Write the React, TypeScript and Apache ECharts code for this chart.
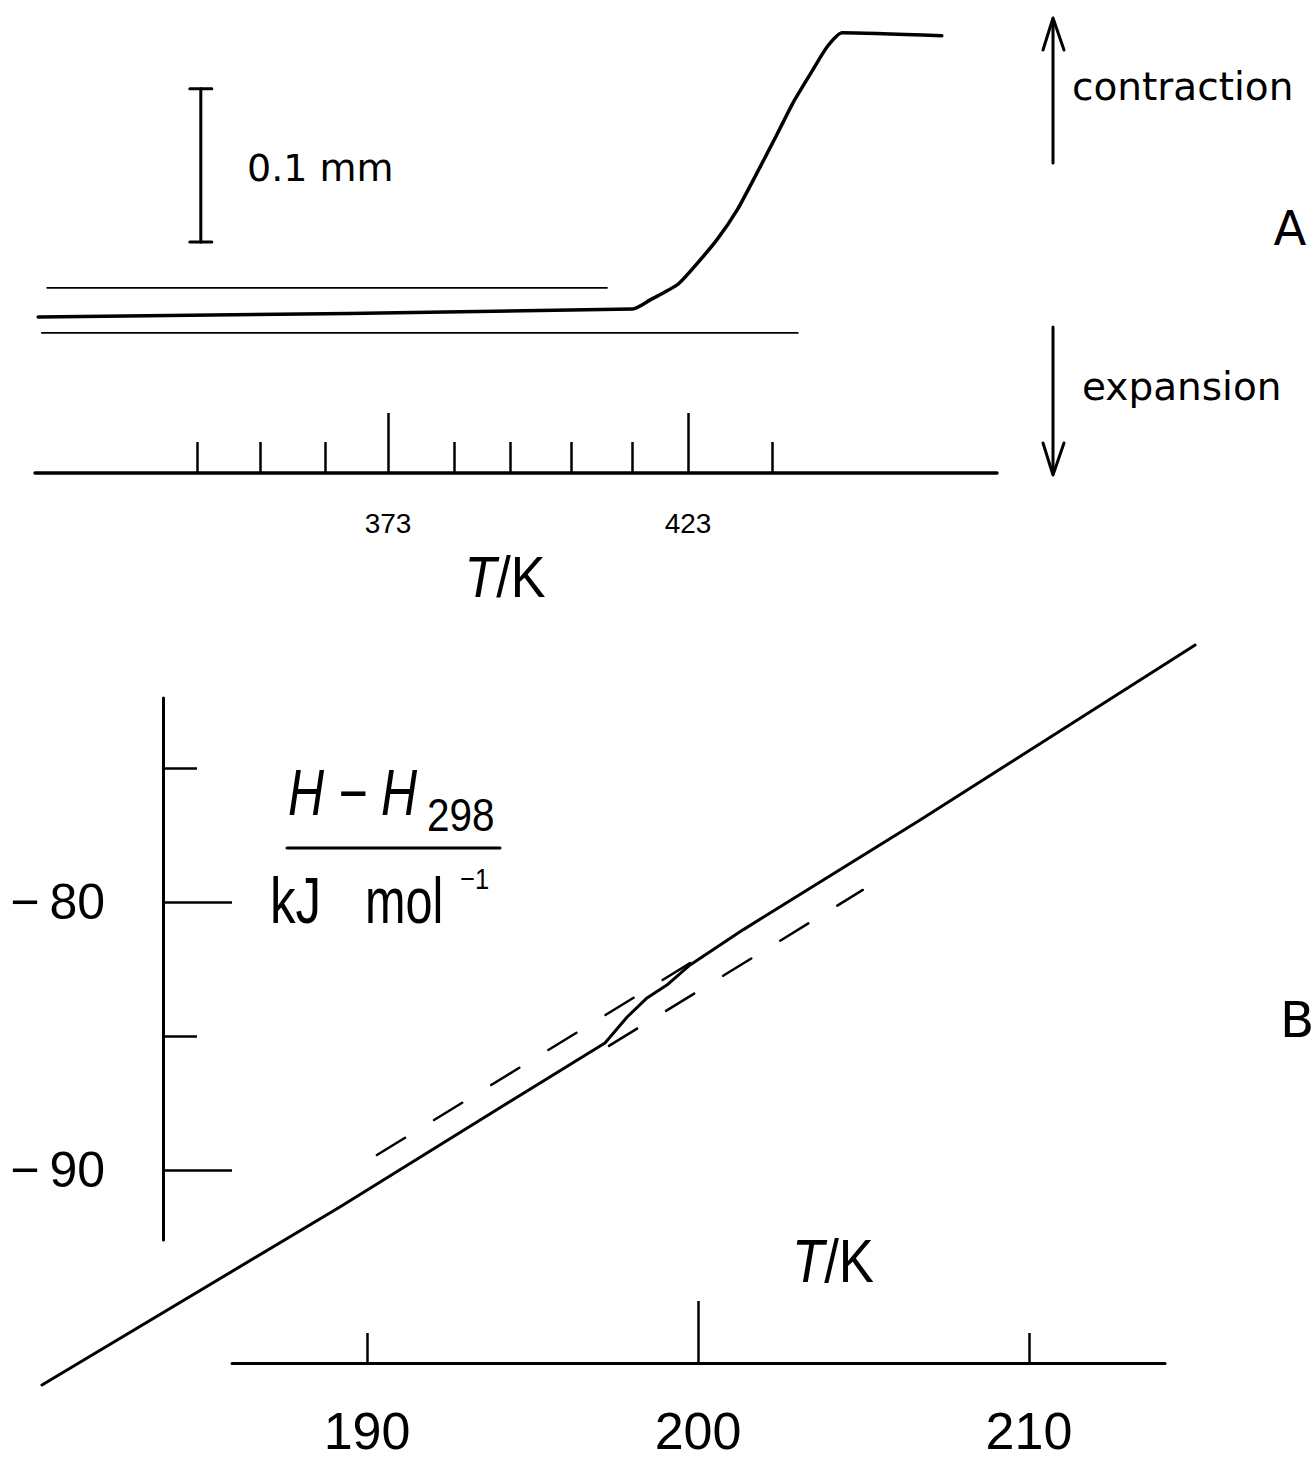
import React, { useEffect, useRef } from "react";
import * as echarts from "echarts";

// ---------- Panel A: dilatometer trace (T / K vs displacement / mm) ----------
const curveT = [314.7, 413.8, 416.7, 421.2, 423.3, 427.8, 431.2, 434.5, 437.8, 440.5, 443.8, 446.2, 448.7, 465.3];
const curveMm = [0, 0.0052, 0.0111, 0.0209, 0.0294, 0.0503, 0.0699, 0.0941, 0.119, 0.1399, 0.1614, 0.1765, 0.1856, 0.1837];
const refUpperT = [316.2, 409.5];
const refUpperMm = [0.019, 0.019];
const refLowerT = [315.3, 441.3];
const refLowerMm = [-0.0105, -0.0105];
const scaleBarT = [341.8];
const scaleBarFrom = [0.049];
const scaleBarTo = [0.149];
const minorTicksA = [341.2, 351.7, 362.5, 384.0, 393.3, 403.5, 413.7, 437.0];
const majorTicksA = [373, 423];

// ---------- Panel B: enthalpy (H - H298) vs T ----------
const hT = [180.18, 189.18, 195.23, 197.19, 197.86, 198.46, 199.06, 199.76, 201.36, 206.71, 215.02];
const hH = [-98.02, -91.38, -86.75, -85.26, -84.29, -83.58, -83.1, -82.35, -81.04, -76.94, -70.41];
const lowExtT = [190.3, 199.76];
const lowExtH = [-89.44, -82.28];
const highExtT = [197.31, 204.98];
const highExtH = [-85.37, -79.55];
const minorTicksBx = [190, 210];
const majorTicksBx = [200];
const labelsBx = [190, 200, 210];
const minorTicksBy = [-75, -85];
const majorTicksBy = [-80, -90];

const zip = (a: number[], b: number[]) => a.map((v, i) => [v, b[i]]);

const BLACK = "#000";
const SANS = '"Liberation Sans", Arial, sans-serif';
const ROUND = '"DejaVu Sans", sans-serif';

const hidden = (gridIndex: number, min: number, max: number) => ({
  type: "value",
  gridIndex,
  min,
  max,
  show: false,
});

const axisBase = (gridIndex: number, min: number, max: number) => ({
  type: "value",
  gridIndex,
  min,
  max,
  splitLine: { show: false },
  axisLine: { show: true, onZero: false, lineStyle: { color: BLACK, width: 3 } },
});

function buildOption(): any {
  const lineSeries = (
    x: number,
    y: number,
    data: number[][],
    width: number,
    type: any = "solid",
    smooth: number = 0
  ) => ({
    type: "line",
    xAxisIndex: x,
    yAxisIndex: y,
    data,
    symbol: "none",
    silent: true,
    smooth,
    lineStyle: { color: BLACK, width, type, cap: "round", join: "round" },
  });

  const text = (
    t: string,
    x: number,
    y: number,
    fontSize: number,
    fontFamily: string,
    align = "left",
    extra: any = {},
    scaleX = 1
  ) => ({
    type: "text",
    z: 100,
    x,
    y,
    scaleX,
    style: {
      text: t,
      x: 0,
      y: 0,
      fill: BLACK,
      fontSize,
      fontFamily,
      align,
      textAlign: align,
      verticalAlign: "middle",
      textVerticalAlign: "middle",
      ...extra,
    },
  });

  const seg = (x1: number, y1: number, x2: number, y2: number, w = 3) => ({
    type: "line",
    z: 100,
    shape: { x1, y1, x2, y2 },
    style: { stroke: BLACK, lineWidth: w, lineCap: "round" },
  });

  const head = (pts: number[][]) => ({
    type: "polyline",
    z: 100,
    shape: { points: pts },
    style: { stroke: BLACK, lineWidth: 3, fill: "none", lineCap: "round", lineJoin: "round" },
  });

  return {
    animation: false,
    backgroundColor: "#fff",
    grid: [
      { left: 35, top: 20, width: 962, height: 453, containLabel: false, outerBoundsMode: "none" },
      { left: 36, top: 634, width: 1175.05, height: 763.8, containLabel: false, outerBoundsMode: "none" },
      { left: 163, top: 698, width: 100, height: 542, containLabel: false, outerBoundsMode: "none" },
      { left: 232, top: 1263, width: 933, height: 100, containLabel: false, outerBoundsMode: "none" },
    ],
    xAxis: [
      {
        ...axisBase(0, 314.167, 474.5),
        position: "bottom",
        axisLine: { show: true, onZero: false, lineStyle: { color: BLACK, width: 3.5 } },
        axisTick: { show: true, inside: true, length: 31, customValues: minorTicksA, lineStyle: { color: BLACK, width: 2.5 } },
        axisLabel: { show: false },
      },
      {
        ...axisBase(0, 314.167, 474.5),
        position: "bottom",
        axisLine: { show: false, onZero: false },
        axisTick: { show: true, inside: true, length: 60, customValues: majorTicksA, lineStyle: { color: BLACK, width: 2.5 } },
        axisLabel: {
          show: true,
          customValues: majorTicksA,
          color: BLACK,
          fontSize: 28,
          fontFamily: SANS,
          margin: 36,
        },
      },
      hidden(1, 180, 215.5),
      hidden(2, 0, 1),
      {
        ...axisBase(3, 185.921, 214.109),
        position: "bottom",
        axisTick: { show: true, inside: true, length: 30, customValues: minorTicksBx, lineStyle: { color: BLACK, width: 2.5 } },
        axisLabel: { show: false },
      },
      {
        ...axisBase(3, 185.921, 214.109),
        position: "bottom",
        axisLine: { show: false, onZero: false },
        axisTick: { show: true, inside: true, length: 62, customValues: majorTicksBx, lineStyle: { color: BLACK, width: 2.5 } },
        axisLabel: {
          show: true,
          customValues: labelsBx,
          color: BLACK,
          fontSize: 52,
          fontFamily: SANS,
          margin: 42,
        },
      },
    ],
    yAxis: [
      hidden(0, -0.102, 0.194),
      hidden(1, -98.5, -70),
      {
        ...axisBase(2, -92.61, -72.39),
        position: "left",
        axisTick: { show: true, inside: true, length: 34, customValues: minorTicksBy, lineStyle: { color: BLACK, width: 2.5 } },
        axisLabel: { show: false },
      },
      {
        ...axisBase(2, -92.61, -72.39),
        position: "left",
        axisLine: { show: false, onZero: false },
        axisTick: { show: true, inside: true, length: 69, customValues: majorTicksBy, lineStyle: { color: BLACK, width: 2.5 } },
        axisLabel: {
          show: true,
          customValues: majorTicksBy,
          color: BLACK,
          fontSize: 50,
          fontFamily: SANS,
          margin: 58,
          formatter: (v: number) => "\u2212\u2009" + Math.abs(v),
        },
      },
      hidden(3, 0, 1),
    ],
    series: [
      lineSeries(0, 0, zip(curveT, curveMm), 3.5, "solid", 0.2),
      lineSeries(0, 0, zip(refUpperT, refUpperMm), 1.8),
      lineSeries(0, 0, zip(refLowerT, refLowerMm), 1.8),
      {
        type: "custom",
        xAxisIndex: 0,
        yAxisIndex: 0,
        silent: true,
        encode: { x: 0, y: [1, 2] },
        data: scaleBarT.map((t, i) => [t, scaleBarFrom[i], scaleBarTo[i]]),
        renderItem: (_params: any, api: any) => {
          const lo = api.coord([api.value(0), api.value(1)]);
          const hi = api.coord([api.value(0), api.value(2)]);
          const cap = 11;
          const st = { stroke: BLACK, lineWidth: 3, lineCap: "round" };
          return {
            type: "group",
            children: [
              { type: "line", shape: { x1: lo[0], y1: lo[1], x2: hi[0], y2: hi[1] }, style: st },
              { type: "line", shape: { x1: lo[0] - cap, y1: lo[1], x2: lo[0] + cap, y2: lo[1] }, style: st },
              { type: "line", shape: { x1: hi[0] - cap, y1: hi[1], x2: hi[0] + cap, y2: hi[1] }, style: st },
            ],
          };
        },
      },
      lineSeries(2, 1, zip(hT, hH), 3),
      lineSeries(2, 1, zip(lowExtT, lowExtH), 2.5, [33, 34]),
      lineSeries(2, 1, zip(highExtT, highExtH), 2.5, [33, 34]),
    ],
    graphic: [
      // Panel A annotations
      text("0.1 mm", 247, 168, 38, ROUND),
      seg(1053, 163, 1053, 20),
      head([[1043, 50], [1053, 18], [1064, 50]]),
      text("contraction", 1072, 86.5, 39, ROUND),
      text("A", 1290, 228, 48, ROUND, "center"),
      seg(1053, 327, 1053, 473),
      head([[1043, 443], [1053, 475], [1064, 443]]),
      text("expansion", 1082, 386.5, 39, ROUND),
      text("{i|T}/K", 505, 577, 58, SANS, "center", {
        rich: { i: { fontStyle: "italic", fontSize: 58, fontFamily: SANS } },
      }, 0.9),
      // Panel B annotations
      text("H \u2212 H", 288, 793, 64, SANS, "left", { fontStyle: "italic" }, 0.78),
      text("298", 427, 815, 46, SANS, "left", {}, 0.88),
      seg(287, 848, 500, 848, 3),
      text("kJ", 270, 901, 64, SANS, "left", {}, 0.8),
      text("mol", 365, 901, 64, SANS, "left", {}, 0.76),
      text("\u22121", 460, 879, 30, SANS, "left", {}, 0.85),
      text("{i|T}/K", 833, 1260, 62, SANS, "center", {
        rich: { i: { fontStyle: "italic", fontSize: 62, fontFamily: SANS } },
      }, 0.85),
      text("B", 1280, 1020, 50, ROUND),
    ],
  };
}

export default function App() {
  const ref = useRef<HTMLDivElement>(null);
  useEffect(() => {
    if (!ref.current) return;
    const chart = echarts.init(ref.current, null, { renderer: "svg" });
    chart.setOption(buildOption());
    return () => chart.dispose();
  }, []);
  return (
    <div
      ref={ref}
      style={{ position: "absolute", left: 0, top: 0, width: 1315, height: 1461, background: "#fff" }}
    />
  );
}
